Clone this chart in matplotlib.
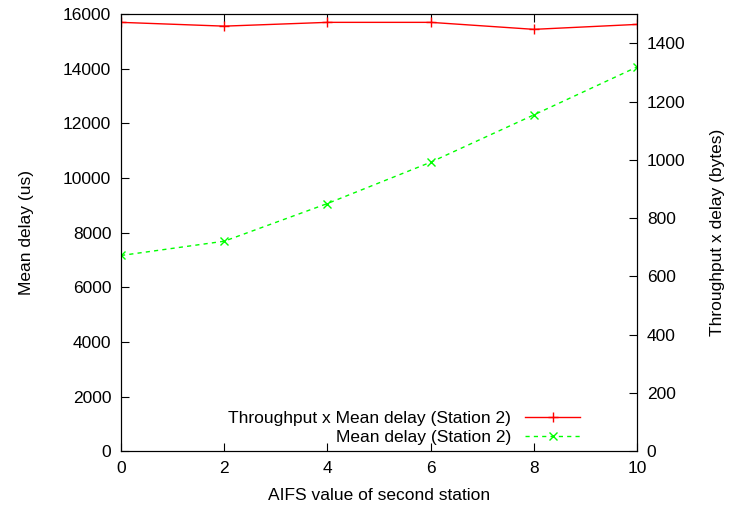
import matplotlib
matplotlib.use('Agg')
import matplotlib.pyplot as plt

plt.rcParams['font.family'] = ['Liberation Sans', 'DejaVu Sans']
plt.rcParams['font.size'] = 12.5

# data
aifs = [0, 2, 4, 6, 8, 10]
mean_delay = [7166, 7689, 9069, 10581, 12315, 14070]
thr_x_delay = [1472, 1459, 1472, 1472, 1448, 1465]

fig = plt.figure(figsize=(7.29, 5.07), dpi=100)
ax = fig.add_axes([0.166, 0.110, 0.708, 0.862])
ax2 = ax.twinx()

l1, = ax2.plot(aifs, thr_x_delay, color='#ff0000', lw=1, marker='+', ms=7, mew=1,
               label='Throughput x Mean delay (Station 2)')
l2, = ax.plot(aifs, mean_delay, color='#00ff00', lw=1, ls=(0, (3, 3)), marker='x', ms=6, mew=1,
              label='Mean delay (Station 2)')

ax.set_xlim(0, 10)
ax.set_ylim(0, 16000)
ax2.set_ylim(0, 1500)
ax.set_xticks(range(0, 11, 2))
ax.set_yticks(range(0, 16001, 2000))
ax2.set_yticks(range(0, 1401, 200))

ax.tick_params(axis='x', direction='in', top=True, length=6, pad=7)
ax.tick_params(axis='y', direction='in', length=6, pad=7)
ax2.tick_params(axis='y', direction='in', length=6, pad=7)

ax.set_xlabel('AIFS value of second station', labelpad=9)
ax.set_ylabel('Mean delay (us)', labelpad=21)
ax2.set_ylabel('Throughput x delay (bytes)', labelpad=18)

ax2.legend(handles=[l1, l2], loc='lower right', bbox_to_anchor=(0.89, 0.015),
           frameon=False, markerfirst=False, handlelength=3.2, handletextpad=0.8,
           labelspacing=0.2, borderaxespad=0, borderpad=0)

fig.savefig('out.png', dpi=100)
